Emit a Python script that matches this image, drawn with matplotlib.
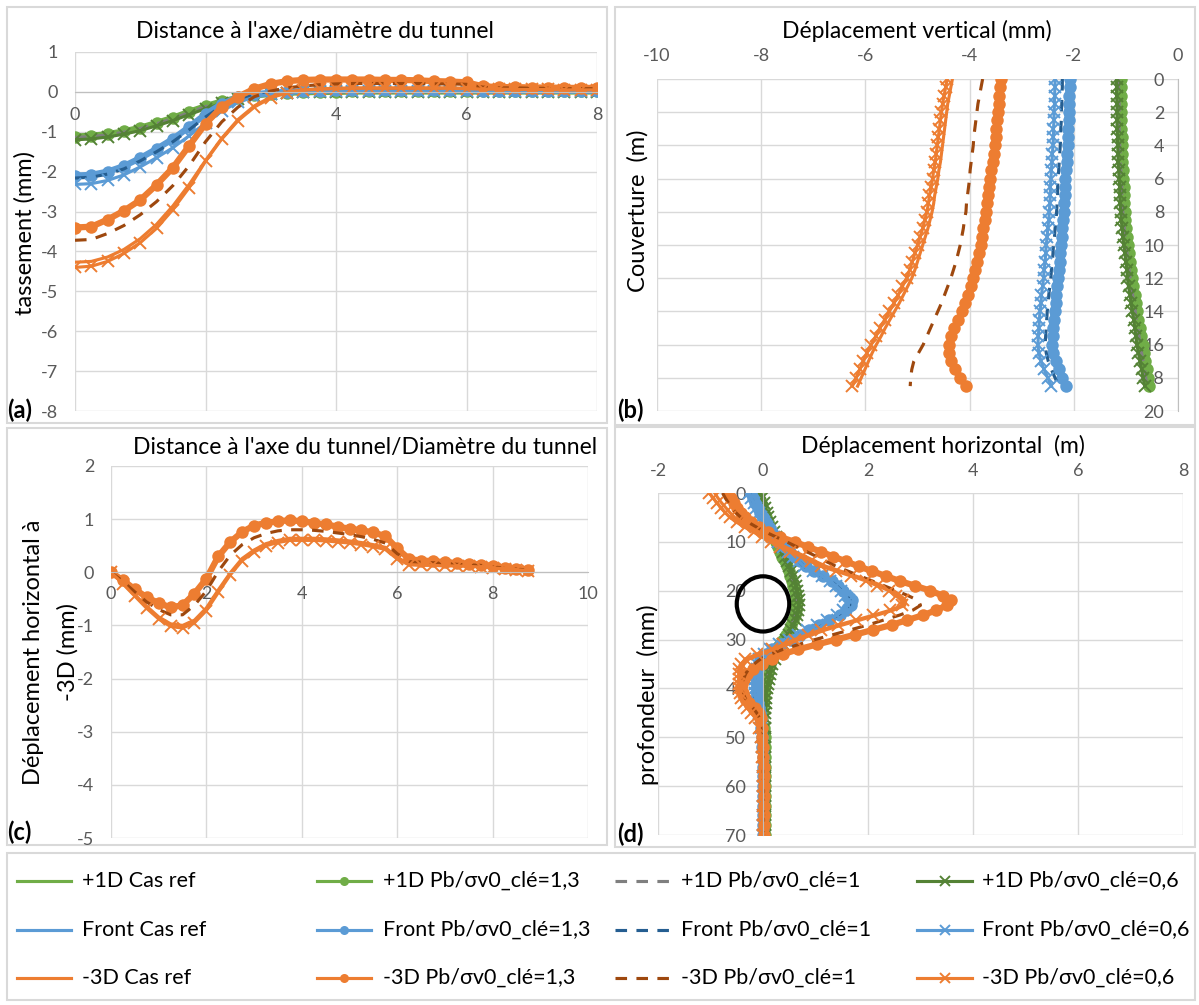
import matplotlib
matplotlib.use('Agg')
import matplotlib.pyplot as plt
from matplotlib.patches import Rectangle, Ellipse

plt.rcParams['font.family'] = ['Lato', 'DejaVu Sans']
plt.rcParams['axes.unicode_minus'] = False

# ---------------- data ----------------
groups = ['+1D', 'Front', '-3D']
cases = ['Cas ref', 'Pb/σv0_clé=1,3', 'Pb/σv0_clé=1', 'Pb/σv0_clé=0,6']

# (a) tassement vs distance a l'axe / diametre
a_x = [0, 0.25, 0.5, 0.75, 1, 1.25, 1.5, 1.75, 2, 2.25, 2.5, 2.75, 3, 3.25, 3.5, 3.75, 4,
       4.25, 4.5, 4.75, 5, 5.25, 5.5, 5.75, 6, 6.25, 6.5, 6.75, 7, 7.25, 7.5, 7.75, 8]
a_p1d_ref = [-1.10, -1.08, -1.04, -0.97, -0.88, -0.76, -0.63, -0.48, -0.34, -0.23, -0.14, -0.08, -0.04, -0.02, -0.01, 0.00, 0.00,
             0.01, 0.01, 0.01, 0.01, 0.01, 0.01, 0.01, 0.01, 0.01, 0.01, 0.01, 0.01, 0.01, 0.01, 0.01, 0.01]
a_p1d_13 = [-1.12, -1.10, -1.06, -0.99, -0.90, -0.78, -0.65, -0.50, -0.36, -0.24, -0.15, -0.09, -0.05, -0.02, -0.01, 0.00, 0.00,
            0.01, 0.01, 0.01, 0.01, 0.01, 0.01, 0.01, 0.01, 0.01, 0.01, 0.01, 0.01, 0.01, 0.01, 0.01, 0.01]
a_p1d_1 = [-1.14, -1.12, -1.08, -1.01, -0.92, -0.80, -0.67, -0.52, -0.37, -0.25, -0.16, -0.09, -0.05, -0.03, -0.01, 0.00, 0.00,
           0.00, 0.01, 0.01, 0.01, 0.01, 0.01, 0.01, 0.01, 0.01, 0.01, 0.01, 0.01, 0.01, 0.01, 0.01, 0.01]
a_p1d_06 = [-1.20, -1.18, -1.13, -1.06, -0.97, -0.85, -0.72, -0.57, -0.42, -0.29, -0.19, -0.11, -0.06, -0.03, -0.01, 0.00, 0.00,
            0.00, 0.00, 0.00, 0.00, 0.00, 0.00, 0.00, 0.00, 0.00, 0.00, 0.00, 0.00, 0.00, 0.00, 0.00, 0.00]
a_front_ref = [-2.12, -2.10, -2.02, -1.88, -1.68, -1.45, -1.20, -0.90, -0.58, -0.32, -0.15, -0.07, -0.03, 0.00, 0.02, 0.03, 0.04,
               0.04, 0.04, 0.04, 0.04, 0.04, 0.04, 0.04, 0.04, 0.03, 0.03, 0.03, 0.03, 0.03, 0.03, 0.03, 0.03]
a_front_13 = [-2.10, -2.08, -2.00, -1.86, -1.66, -1.43, -1.18, -0.88, -0.56, -0.30, -0.14, -0.06, -0.02, 0.00, 0.02, 0.03, 0.04,
              0.04, 0.04, 0.04, 0.04, 0.04, 0.04, 0.04, 0.04, 0.03, 0.03, 0.03, 0.03, 0.03, 0.03, 0.03, 0.03]
a_front_1 = [-2.16, -2.14, -2.06, -1.93, -1.73, -1.50, -1.25, -0.95, -0.63, -0.36, -0.18, -0.08, -0.03, 0.00, 0.02, 0.03, 0.03,
             0.04, 0.04, 0.04, 0.04, 0.04, 0.04, 0.04, 0.04, 0.03, 0.03, 0.03, 0.03, 0.03, 0.03, 0.03, 0.03]
a_front_06 = [-2.32, -2.30, -2.22, -2.08, -1.88, -1.65, -1.40, -1.10, -0.78, -0.48, -0.26, -0.13, -0.06, -0.02, 0.00, 0.01, 0.02,
              0.02, 0.02, 0.02, 0.02, 0.02, 0.02, 0.02, 0.02, 0.02, 0.02, 0.02, 0.02, 0.02, 0.02, 0.02, 0.02]
a_m3d_ref = [-4.27, -4.25, -4.14, -3.95, -3.68, -3.32, -2.86, -2.32, -1.72, -1.16, -0.69, -0.35, -0.13, 0.00, 0.05, 0.08, 0.09,
             0.10, 0.10, 0.10, 0.10, 0.10, 0.10, 0.10, 0.09, 0.08, 0.08, 0.07, 0.07, 0.07, 0.06, 0.06, 0.06]
a_m3d_13 = [-3.40, -3.38, -3.20, -2.98, -2.71, -2.33, -1.90, -1.35, -0.80, -0.38, -0.12, 0.08, 0.20, 0.27, 0.30, 0.31, 0.31,
            0.31, 0.31, 0.30, 0.30, 0.29, 0.27, 0.26, 0.24, 0.14, 0.12, 0.12, 0.11, 0.11, 0.10, 0.10, 0.10]
a_m3d_1 = [-3.72, -3.70, -3.55, -3.35, -3.08, -2.75, -2.35, -1.85, -1.25, -0.75, -0.38, -0.12, 0.02, 0.10, 0.15, 0.18, 0.20,
           0.21, 0.21, 0.21, 0.21, 0.21, 0.20, 0.20, 0.19, 0.12, 0.10, 0.10, 0.09, 0.09, 0.08, 0.08, 0.08]
a_m3d_06 = [-4.40, -4.37, -4.25, -4.05, -3.78, -3.42, -2.95, -2.40, -1.74, -1.18, -0.72, -0.38, -0.15, -0.02, 0.04, 0.07, 0.08,
            0.09, 0.09, 0.09, 0.09, 0.09, 0.09, 0.09, 0.08, 0.07, 0.07, 0.06, 0.06, 0.06, 0.05, 0.05, 0.05]

# (b) deplacement vertical vs couverture
b_depth = [0, 0.5, 1, 1.5, 2, 2.5, 3, 3.5, 4, 4.5, 5, 5.5, 6, 6.5, 7, 7.5, 8, 8.5, 9, 9.5,
           10, 10.5, 11, 11.5, 12, 12.5, 13, 13.5, 14, 14.5, 15, 15.5, 16, 16.5, 17, 17.5, 18, 18.5]
b_p1d_ref = [-1.11, -1.11, -1.11, -1.10, -1.10, -1.10, -1.10, -1.09, -1.09, -1.08, -1.08, -1.07, -1.06, -1.05, -1.05, -1.04,
             -1.03, -1.02, -1.00, -0.99, -0.97, -0.95, -0.93, -0.91, -0.89, -0.87, -0.84, -0.82, -0.79, -0.77, -0.74, -0.72,
             -0.69, -0.67, -0.64, -0.61, -0.59, -0.56]
b_p1d_13 = [-1.10, -1.10, -1.10, -1.09, -1.09, -1.09, -1.09, -1.08, -1.08, -1.07, -1.07, -1.06, -1.05, -1.04, -1.04, -1.03,
            -1.02, -1.01, -0.99, -0.98, -0.96, -0.94, -0.92, -0.90, -0.88, -0.86, -0.83, -0.81, -0.78, -0.76, -0.73, -0.71,
            -0.68, -0.66, -0.63, -0.60, -0.58, -0.55]
b_p1d_1 = [-1.14, -1.14, -1.14, -1.13, -1.13, -1.13, -1.13, -1.12, -1.12, -1.11, -1.11, -1.10, -1.09, -1.08, -1.08, -1.07,
           -1.06, -1.05, -1.03, -1.02, -1.00, -0.98, -0.96, -0.94, -0.92, -0.90, -0.87, -0.85, -0.82, -0.80, -0.77, -0.75,
           -0.72, -0.70, -0.67, -0.64, -0.62, -0.59]
b_p1d_06 = [-1.18, -1.18, -1.18, -1.17, -1.17, -1.17, -1.17, -1.16, -1.16, -1.15, -1.15, -1.14, -1.13, -1.12, -1.12, -1.11,
            -1.10, -1.09, -1.07, -1.06, -1.04, -1.02, -1.00, -0.98, -0.97, -0.95, -0.92, -0.90, -0.88, -0.85, -0.83, -0.81,
            -0.79, -0.76, -0.73, -0.70, -0.67, -0.64]
b_front_ref = [-2.13, -2.13, -2.14, -2.14, -2.15, -2.15, -2.16, -2.16, -2.17, -2.18, -2.19, -2.20, -2.21, -2.22, -2.22, -2.23,
               -2.24, -2.25, -2.27, -2.28, -2.30, -2.31, -2.32, -2.34, -2.35, -2.37, -2.39, -2.40, -2.42, -2.43, -2.44, -2.45,
               -2.46, -2.44, -2.40, -2.34, -2.27, -2.20]
b_front_13 = [-2.08, -2.08, -2.09, -2.09, -2.10, -2.10, -2.11, -2.11, -2.12, -2.13, -2.14, -2.15, -2.16, -2.17, -2.17, -2.18,
              -2.19, -2.20, -2.22, -2.23, -2.25, -2.26, -2.27, -2.29, -2.30, -2.32, -2.34, -2.35, -2.37, -2.38, -2.39, -2.40,
              -2.41, -2.39, -2.35, -2.29, -2.22, -2.15]
b_front_1 = [-2.22, -2.22, -2.23, -2.23, -2.24, -2.24, -2.25, -2.25, -2.26, -2.27, -2.28, -2.29, -2.30, -2.31, -2.31, -2.32,
             -2.33, -2.34, -2.36, -2.37, -2.39, -2.40, -2.41, -2.43, -2.44, -2.46, -2.48, -2.49, -2.51, -2.52, -2.53, -2.54,
             -2.55, -2.53, -2.49, -2.43, -2.36, -2.29]
b_front_06 = [-2.36, -2.36, -2.37, -2.37, -2.38, -2.38, -2.39, -2.39, -2.40, -2.41, -2.42, -2.43, -2.44, -2.45, -2.45, -2.46,
              -2.47, -2.48, -2.50, -2.51, -2.53, -2.54, -2.55, -2.57, -2.58, -2.60, -2.62, -2.63, -2.65, -2.66, -2.67, -2.68,
              -2.69, -2.67, -2.63, -2.57, -2.50, -2.43]
b_m3d_ref = [-4.33, -4.36, -4.39, -4.42, -4.44, -4.46, -4.48, -4.50, -4.52, -4.54, -4.56, -4.59, -4.61, -4.64, -4.67, -4.69,
             -4.72, -4.76, -4.80, -4.85, -4.90, -4.95, -5.00, -5.05, -5.11, -5.19, -5.27, -5.35, -5.44, -5.53, -5.62, -5.70,
             -5.79, -5.87, -5.94, -6.01, -6.08, -6.15]
b_m3d_13 = [-3.39, -3.41, -3.43, -3.44, -3.46, -3.47, -3.49, -3.50, -3.52, -3.54, -3.56, -3.58, -3.61, -3.63, -3.65, -3.66,
            -3.68, -3.71, -3.74, -3.76, -3.79, -3.82, -3.86, -3.89, -3.93, -3.98, -4.03, -4.08, -4.14, -4.22, -4.29, -4.35,
            -4.39, -4.39, -4.36, -4.28, -4.18, -4.07]
b_m3d_1 = [-3.75, -3.78, -3.81, -3.84, -3.86, -3.88, -3.90, -3.92, -3.93, -3.95, -3.97, -3.99, -4.00, -4.02, -4.04, -4.06,
           -4.07, -4.10, -4.12, -4.15, -4.18, -4.22, -4.26, -4.31, -4.36, -4.42, -4.48, -4.54, -4.61, -4.68, -4.75, -4.82,
           -4.89, -4.98, -5.07, -5.11, -5.13, -5.14]
b_m3d_06 = [-4.43, -4.46, -4.49, -4.52, -4.54, -4.56, -4.58, -4.60, -4.62, -4.64, -4.66, -4.69, -4.71, -4.74, -4.77, -4.79,
            -4.82, -4.86, -4.90, -4.95, -5.00, -5.05, -5.10, -5.15, -5.21, -5.29, -5.37, -5.45, -5.54, -5.63, -5.72, -5.80,
            -5.89, -5.97, -6.04, -6.11, -6.18, -6.25]

# (c) deplacement horizontal a -3D vs distance
c_x = [0, 0.25, 0.5, 0.75, 1, 1.25, 1.5, 1.75, 2, 2.25, 2.5, 2.75, 3, 3.25, 3.5, 3.75, 4, 4.25,
       4.5, 4.75, 5, 5.25, 5.5, 5.75, 6, 6.25, 6.5, 6.75, 7, 7.25, 7.5, 7.75, 8, 8.25, 8.5, 8.75]
c_m3d_ref = [0.00, -0.20, -0.42, -0.64, -0.84, -0.97, -1.00, -0.90, -0.67, -0.33, -0.01, 0.26, 0.42, 0.54, 0.60, 0.64, 0.64, 0.64,
             0.63, 0.61, 0.59, 0.56, 0.52, 0.47, 0.28, 0.16, 0.15, 0.15, 0.14, 0.13, 0.12, 0.11, 0.09, 0.08, 0.06, 0.04]
c_m3d_13 = [0.00, -0.15, -0.32, -0.47, -0.58, -0.66, -0.62, -0.40, -0.12, 0.30, 0.57, 0.76, 0.88, 0.93, 0.96, 0.98, 0.96, 0.93,
            0.90, 0.86, 0.82, 0.79, 0.75, 0.68, 0.45, 0.25, 0.22, 0.21, 0.19, 0.17, 0.15, 0.14, 0.11, 0.09, 0.07, 0.04]
c_m3d_1 = [0.00, -0.17, -0.37, -0.56, -0.70, -0.80, -0.80, -0.62, -0.35, 0.02, 0.32, 0.52, 0.65, 0.73, 0.78, 0.80, 0.80, 0.79,
           0.77, 0.74, 0.71, 0.67, 0.62, 0.55, 0.35, 0.20, 0.19, 0.18, 0.17, 0.15, 0.14, 0.13, 0.10, 0.08, 0.06, 0.04]
c_m3d_06 = [0.00, -0.22, -0.45, -0.68, -0.88, -1.02, -1.05, -0.95, -0.72, -0.38, -0.05, 0.22, 0.38, 0.50, 0.56, 0.60, 0.60, 0.60,
            0.59, 0.57, 0.55, 0.52, 0.48, 0.43, 0.25, 0.14, 0.13, 0.13, 0.12, 0.12, 0.11, 0.10, 0.08, 0.07, 0.05, 0.03]

# (d) deplacement horizontal vs profondeur
d_depth = [0, 1, 2, 3, 4, 5, 6, 7, 8, 9, 10, 11, 12, 13, 14, 15, 16, 17, 18, 19, 20, 21, 22,
           23, 24, 25, 26, 27, 28, 29, 30, 31, 32, 33, 34, 35, 36, 37, 38, 39, 40, 41, 42, 43, 44, 45, 46,
           48, 50, 52, 54, 56, 58, 60, 62, 64, 66, 68, 70]
d_p1d_ref = [-0.08, -0.05, -0.02, 0.01, 0.04, 0.07, 0.11, 0.14, 0.18, 0.22, 0.26, 0.31, 0.35, 0.39, 0.43, 0.47, 0.51, 0.54, 0.57, 0.60, 0.62, 0.64, 0.65,
             0.65, 0.64, 0.62, 0.59, 0.55, 0.51, 0.46, 0.40, 0.35, 0.29, 0.24, 0.19, 0.15, 0.12, 0.10, 0.08, 0.06, 0.04, 0.03, 0.02, 0.02, 0.02, 0.02, 0.02,
             0.03, 0.03, 0.03, 0.03, 0.03, 0.03, 0.03, 0.03, 0.03, 0.03, 0.03, 0.03]
d_p1d_13 = [-0.10, -0.07, -0.04, -0.01, 0.02, 0.05, 0.09, 0.12, 0.16, 0.20, 0.24, 0.29, 0.33, 0.37, 0.41, 0.45, 0.49, 0.52, 0.55, 0.58, 0.60, 0.62, 0.63,
            0.63, 0.62, 0.60, 0.57, 0.53, 0.49, 0.44, 0.38, 0.33, 0.27, 0.22, 0.17, 0.13, 0.10, 0.08, 0.06, 0.04, 0.02, 0.01, 0.00, 0.00, -0.01, -0.01, -0.01,
            0.02, 0.03, 0.03, 0.03, 0.03, 0.03, 0.03, 0.03, 0.03, 0.03, 0.03, 0.03]
d_p1d_1 = [-0.09, -0.06, -0.03, 0.00, 0.03, 0.06, 0.10, 0.13, 0.17, 0.21, 0.25, 0.30, 0.34, 0.38, 0.42, 0.46, 0.50, 0.53, 0.56, 0.59, 0.61, 0.63, 0.64,
           0.64, 0.63, 0.61, 0.58, 0.54, 0.50, 0.45, 0.39, 0.34, 0.28, 0.23, 0.18, 0.14, 0.11, 0.09, 0.07, 0.05, 0.03, 0.02, 0.01, 0.01, 0.00, 0.00, 0.00,
           0.02, 0.03, 0.03, 0.03, 0.03, 0.03, 0.03, 0.03, 0.03, 0.03, 0.03, 0.03]
d_p1d_06 = [-0.05, -0.02, 0.01, 0.04, 0.07, 0.10, 0.14, 0.17, 0.21, 0.25, 0.29, 0.34, 0.38, 0.42, 0.46, 0.50, 0.54, 0.57, 0.60, 0.63, 0.65, 0.67, 0.68,
            0.68, 0.67, 0.65, 0.62, 0.58, 0.54, 0.49, 0.43, 0.38, 0.32, 0.27, 0.22, 0.18, 0.15, 0.13, 0.11, 0.09, 0.07, 0.06, 0.05, 0.05, 0.04, 0.04, 0.04,
            0.04, 0.04, 0.04, 0.04, 0.04, 0.04, 0.04, 0.04, 0.04, 0.04, 0.04, 0.04]
d_front_ref = [-0.25, -0.21, -0.17, -0.12, -0.07, -0.02, 0.03, 0.09, 0.15, 0.22, 0.29, 0.39, 0.49, 0.59, 0.69, 0.79, 0.96, 1.13, 1.30, 1.41, 1.51, 1.60, 1.67,
               1.66, 1.56, 1.44, 1.24, 1.04, 0.86, 0.68, 0.51, 0.33, 0.15, 0.03, -0.07, -0.10, -0.11, -0.13, -0.14, -0.14, -0.14, -0.14, -0.14, -0.12, -0.10, -0.08, -0.06,
               -0.04, -0.03, -0.01, 0.00, 0.00, 0.00, 0.00, 0.00, 0.00, 0.00, 0.00, 0.00]
d_front_13 = [-0.23, -0.19, -0.15, -0.10, -0.05, 0.00, 0.05, 0.11, 0.17, 0.24, 0.31, 0.41, 0.51, 0.61, 0.71, 0.81, 0.98, 1.15, 1.32, 1.43, 1.53, 1.62, 1.69,
              1.68, 1.58, 1.46, 1.26, 1.06, 0.88, 0.70, 0.53, 0.35, 0.17, 0.05, -0.05, -0.08, -0.09, -0.11, -0.12, -0.12, -0.12, -0.12, -0.12, -0.10, -0.08, -0.06, -0.04,
              -0.03, -0.02, -0.01, 0.00, 0.00, 0.00, 0.00, 0.00, 0.00, 0.00, 0.00, 0.00]
d_front_1 = [-0.26, -0.22, -0.18, -0.13, -0.08, -0.03, 0.02, 0.08, 0.14, 0.21, 0.28, 0.38, 0.48, 0.58, 0.68, 0.78, 0.95, 1.12, 1.29, 1.40, 1.50, 1.59, 1.66,
             1.65, 1.55, 1.43, 1.23, 1.03, 0.85, 0.67, 0.50, 0.32, 0.14, 0.02, -0.08, -0.11, -0.12, -0.14, -0.15, -0.15, -0.15, -0.15, -0.15, -0.13, -0.11, -0.09, -0.06,
             -0.04, -0.03, -0.01, 0.00, 0.00, 0.00, 0.00, 0.00, 0.00, 0.00, 0.00, 0.00]
d_front_06 = [-0.26, -0.22, -0.18, -0.13, -0.08, -0.03, 0.02, 0.08, 0.14, 0.21, 0.28, 0.38, 0.48, 0.58, 0.68, 0.78, 0.95, 1.12, 1.28, 1.39, 1.49, 1.57, 1.63,
              1.62, 1.53, 1.41, 1.22, 1.02, 0.84, 0.66, 0.49, 0.31, 0.13, 0.01, -0.08, -0.11, -0.12, -0.14, -0.15, -0.15, -0.15, -0.15, -0.14, -0.12, -0.10, -0.08, -0.05,
              -0.04, -0.03, -0.01, 0.00, 0.00, 0.00, 0.00, 0.00, 0.00, 0.00, 0.00, 0.00]
d_m3d_ref = [-0.92, -0.86, -0.79, -0.71, -0.63, -0.54, -0.41, -0.26, -0.09, 0.07, 0.24, 0.42, 0.61, 0.81, 1.00, 1.20, 1.48, 1.77, 2.05, 2.27, 2.49, 2.62, 2.72,
             2.70, 2.48, 2.17, 1.85, 1.52, 1.20, 0.94, 0.69, 0.46, 0.24, -0.04, -0.27, -0.36, -0.41, -0.43, -0.43, -0.43, -0.42, -0.40, -0.37, -0.32, -0.26, -0.18, -0.11,
             -0.06, -0.03, -0.01, 0.00, 0.00, 0.00, 0.00, 0.00, 0.00, 0.00, 0.00, 0.00]
d_m3d_13 = [-0.66, -0.61, -0.55, -0.49, -0.42, -0.34, -0.22, -0.07, 0.09, 0.33, 0.60, 0.85, 1.10, 1.34, 1.58, 1.82, 2.08, 2.34, 2.60, 2.90, 3.19, 3.42, 3.58,
            3.50, 3.30, 3.05, 2.75, 2.45, 2.10, 1.75, 1.39, 1.03, 0.67, 0.38, 0.17, -0.02, -0.19, -0.30, -0.37, -0.40, -0.41, -0.39, -0.34, -0.26, -0.16, -0.08, -0.04,
            -0.02, -0.01, 0.00, 0.00, 0.01, 0.01, 0.02, 0.02, 0.02, 0.02, 0.02, 0.02]
d_m3d_1 = [-0.77, -0.72, -0.66, -0.60, -0.52, -0.42, -0.28, -0.12, 0.05, 0.25, 0.45, 0.64, 0.83, 1.02, 1.20, 1.39, 1.62, 1.85, 2.08, 2.31, 2.54, 2.76, 2.96,
           3.00, 2.85, 2.60, 2.30, 2.00, 1.67, 1.33, 0.99, 0.68, 0.38, 0.14, -0.05, -0.17, -0.27, -0.33, -0.37, -0.40, -0.41, -0.38, -0.34, -0.27, -0.19, -0.12, -0.07,
           -0.04, -0.02, -0.01, 0.00, 0.00, 0.00, 0.01, 0.01, 0.01, 0.01, 0.01, 0.01]
d_m3d_06 = [-1.02, -0.95, -0.88, -0.80, -0.72, -0.63, -0.50, -0.35, -0.18, -0.02, 0.15, 0.33, 0.52, 0.72, 0.91, 1.10, 1.39, 1.68, 1.96, 2.18, 2.40, 2.54, 2.66,
            2.65, 2.42, 2.10, 1.77, 1.43, 1.10, 0.85, 0.60, 0.38, 0.17, -0.12, -0.34, -0.41, -0.45, -0.46, -0.46, -0.46, -0.45, -0.43, -0.41, -0.36, -0.30, -0.22, -0.15,
            -0.08, -0.04, -0.02, -0.01, 0.00, 0.00, 0.00, 0.00, 0.00, 0.00, 0.00, 0.00]

# position of the tunnel drawn in (d)
tunnel_x, tunnel_depth = 0.0, 22.7
tunnel_w, tunnel_h = 1.0, 11.3

panel_a = [[a_p1d_ref, a_p1d_13, a_p1d_1, a_p1d_06],
           [a_front_ref, a_front_13, a_front_1, a_front_06],
           [a_m3d_ref, a_m3d_13, a_m3d_1, a_m3d_06]]
panel_b = [[b_p1d_ref, b_p1d_13, b_p1d_1, b_p1d_06],
           [b_front_ref, b_front_13, b_front_1, b_front_06],
           [b_m3d_ref, b_m3d_13, b_m3d_1, b_m3d_06]]
panel_c = [None, None, [c_m3d_ref, c_m3d_13, c_m3d_1, c_m3d_06]]
panel_d = [[d_p1d_ref, d_p1d_13, d_p1d_1, d_p1d_06],
           [d_front_ref, d_front_13, d_front_1, d_front_06],
           [d_m3d_ref, d_m3d_13, d_m3d_1, d_m3d_06]]

# ---------------- styles ----------------
GREEN, DKGREEN, GREY = '#70AD47', '#548235', '#7F7F7F'
BLUE, DKBLUE = '#5B9BD5', '#255E91'
ORANGE, BROWN = '#ED7D31', '#9E480E'
GRID, TICK = '#D9D9D9', '#595959'

colors = [[GREEN, GREEN, GREY, DKGREEN],
          [BLUE, BLUE, DKBLUE, BLUE],
          [ORANGE, ORANGE, BROWN, ORANGE]]
case_kw = [dict(ls='-', lw=2.25),
           dict(ls='-', lw=4.5, marker='o', ms=9, mew=0),
           dict(ls=(0, (3.7, 3)), lw=2.25),
           dict(ls='-', lw=2.25, marker='x', ms=8.5, mew=1.4)]


def style(gi, ci):
    kw = dict(case_kw[ci])
    kw['color'] = colors[gi][ci]
    return kw


W, H = 1199, 1005
fig = plt.figure(figsize=(W / 100, H / 100), dpi=100)

# overlay in pixel coordinates for boxes, titles and legend
ov = fig.add_axes([0, 0, 1, 1])
ov.set_xlim(0, W)
ov.set_ylim(H, 0)
ov.axis('off')


def px_axes(l, t, r, b):
    ax = fig.add_axes([l / W, 1 - b / H, (r - l) / W, (b - t) / H])
    ax.set_facecolor('none')
    for s in ax.spines.values():
        s.set_visible(False)
    ax.grid(True, color=GRID, lw=1)
    ax.set_axisbelow(True)
    ax.tick_params(length=0, labelsize=13, labelcolor=TICK)
    return ax


def draw(ax, pos, series, vertical=False):
    for gi, grp in enumerate(series):
        if grp is None:
            continue
        for ci, vals in enumerate(grp):
            if vertical:
                ax.plot(vals, pos, **style(gi, ci))
            else:
                ax.plot(pos, vals, **style(gi, ci))


# panel boxes
for l, t, r, b in [(7, 7, 607, 423), (615, 7, 1195, 425), (7, 428, 607, 845),
                   (615, 427, 1195, 847), (7, 853, 1195, 1000)]:
    ov.add_patch(Rectangle((l, t), r - l, b - t, fill=False, ec=GRID, lw=1.5))

# (a)
ax_a = px_axes(75, 52, 597, 411)
draw(ax_a, a_x, panel_a)
ax_a.set_xlim(0, 8)
ax_a.set_ylim(-8, 1)
ax_a.set_xticks([0, 2, 4, 6, 8])
ax_a.set_yticks(range(-8, 2))
ax_a.spines['bottom'].set_visible(True)
ax_a.spines['bottom'].set_position(('data', 0))
ax_a.spines['bottom'].set_color('#BFBFBF')
ax_a.tick_params(axis='x', pad=11)
ax_a.tick_params(axis='y', pad=12)

# (b)
ax_b = px_axes(657, 79, 1178, 411)
draw(ax_b, b_depth, panel_b, vertical=True)
ax_b.set_xlim(-10, 0)
ax_b.set_ylim(20, 0)
ax_b.set_xticks(range(-10, 1, 2))
ax_b.set_yticks(range(0, 21, 2))
ax_b.xaxis.tick_top()
ax_b.spines['left'].set_visible(True)
ax_b.spines['left'].set_position(('data', 0))
ax_b.spines['left'].set_color('#BFBFBF')
ax_b.tick_params(axis='x', pad=11)
ax_b.tick_params(axis='y', pad=10)

# (c)
ax_c = px_axes(111, 466, 588, 838)
draw(ax_c, c_x, panel_c)
ax_c.set_xlim(0, 10)
ax_c.set_ylim(-5, 2)
ax_c.set_xticks(range(0, 11, 2))
ax_c.set_yticks(range(-5, 3))
ax_c.spines['bottom'].set_visible(True)
ax_c.spines['bottom'].set_position(('data', 0))
ax_c.spines['bottom'].set_color('#BFBFBF')
ax_c.tick_params(axis='x', pad=10)
ax_c.tick_params(axis='y', pad=12)

# (d)
ax_d = px_axes(658, 493, 1183, 835)
draw(ax_d, d_depth, panel_d, vertical=True)
ax_d.add_patch(Ellipse((tunnel_x, tunnel_depth), tunnel_w, tunnel_h,
                       fill=False, ec='black', lw=3, zorder=6))
ax_d.set_xlim(-2, 8)
ax_d.set_ylim(70, 0)
ax_d.set_xticks(range(-2, 9, 2))
ax_d.set_yticks(range(0, 71, 10))
ax_d.xaxis.tick_top()
ax_d.spines['left'].set_visible(True)
ax_d.spines['left'].set_position(('data', 0))
ax_d.spines['left'].set_color('#BFBFBF')
ax_d.tick_params(axis='x', pad=10)
ax_d.tick_params(axis='y', pad=12)

# titles and axis labels
ov.text(315, 31, "Distance à l'axe/diamètre du tunnel", ha='center', va='center', fontsize=16.5)
ov.text(917, 31, 'Déplacement vertical (mm)', ha='center', va='center', fontsize=16.5)
ov.text(365, 447, "Distance à l'axe du tunnel/Diamètre du tunnel", ha='center', va='center', fontsize=16.5)
ov.text(943, 446, 'Déplacement horizontal  (m)', ha='center', va='center', fontsize=16.5)
ov.text(25, 233, 'tassement (mm)', rotation=90, ha='center', va='center', fontsize=17)
ov.text(638, 211, 'Couverture  (m)', rotation=90, ha='center', va='center', fontsize=17)
ov.text(51, 652, 'Déplacement horizontal à\n-3D (mm)', rotation=90, ha='center', va='center',
        fontsize=17, linespacing=1.75, multialignment='center')
ov.text(648, 695, 'profondeur  (mm)', rotation=90, ha='center', va='center', fontsize=17)
for lab, x, y in [('(a)', 7, 410), ('(b)', 617, 410), ('(c)', 7, 832), ('(d)', 617, 834)]:
    ov.text(x, y, lab, ha='left', va='center', fontsize=17, fontweight='bold')

# legend (4 columns x 3 rows)
rows_y = [881, 930, 978]
handle_x = [(17, 71), (317, 371), (615, 671), (917, 972)]
text_x = [82, 383, 681, 982]
for gi, grp in enumerate(groups):
    for ci, case in enumerate(cases):
        kw = style(gi, ci)
        x0, x1 = handle_x[ci]
        y = rows_y[gi]
        ov.plot([x0, x1], [y, y], color=kw['color'], ls=kw['ls'], lw=2.25)
        if 'marker' in kw:
            ov.plot([(x0 + x1) / 2], [y], ls='none', color=kw['color'], marker=kw['marker'],
                    ms=6.5, mew=kw['mew'])
        ov.text(text_x[ci], y, f'{grp} {case}', ha='left', va='center', fontsize=15.5)

fig.savefig('out.png', dpi=100)
